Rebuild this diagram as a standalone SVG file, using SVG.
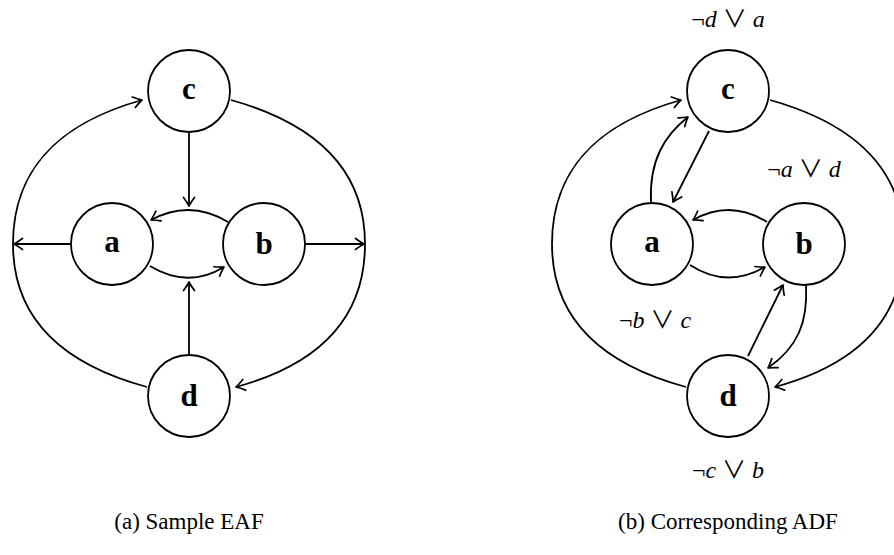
<svg xmlns="http://www.w3.org/2000/svg" width="894" height="555" viewBox="0 0 894 555">
<defs>
<marker id="arr" viewBox="-12 -7 14 14" refX="0" refY="0" markerWidth="14" markerHeight="14" markerUnits="userSpaceOnUse" orient="auto" overflow="visible">
<path d="M -8.5,-5.5 Q -3,-1.5 0,0 Q -3,1.5 -8.5,5.5" fill="none" stroke="#000" stroke-width="1.7" stroke-linecap="round" stroke-linejoin="round"/>
</marker>
<style>
.node circle{fill:#fff;stroke:#000;stroke-width:1.8}
.node text{font-family:"Liberation Serif",serif;font-weight:bold;font-size:31px;text-anchor:middle}
.edges path{fill:none;stroke:#000;stroke-width:1.8;marker-end:url(#arr)}
.lbl{font-family:"Liberation Serif","Noto Sans CJK JP",serif;font-size:24px;text-anchor:middle}
.lbl tspan.v{font-style:italic}
.cap{font-family:"Liberation Serif",serif;font-size:23px;text-anchor:middle}
</style>
</defs>
<rect width="894" height="555" fill="#fff"/>

<!-- Left: Sample EAF -->
<g class="edges" id="edges-eaf">
<path d="M 147,387 C 77,368 13,329 13,244 C 13,159 72,119.6 142,100"/>
<path d="M 231,100 C 301,119.6 365,159 365,244 C 365,329 306,368 236,387"/>
<path d="M 71,244 L 14,244"/>
<path d="M 305,244 L 364,244"/>
<path d="M 189,132 L 189,206"/>
<path d="M 189,355 L 189,282"/>
<path d="M 228,222 Q 190,199 151,220"/>
<path d="M 150,266 Q 188,289 224,267"/>
</g>
<g class="node" id="eaf-c"><circle cx="189" cy="91" r="41"/><text x="189" y="98.5">c</text></g>
<g class="node" id="eaf-a"><circle cx="112" cy="244" r="41"/><text x="112" y="251.5">a</text></g>
<g class="node" id="eaf-b"><circle cx="264" cy="244" r="41"/><text x="264" y="254">b</text></g>
<g class="node" id="eaf-d"><circle cx="189" cy="396" r="41"/><text x="189" y="406">d</text></g>

<!-- Right: Corresponding ADF -->
<g class="edges" id="edges-adf">
<path d="M 686,387 C 616,368 552,329 552,244 C 552,159 611,119.6 681,100"/>
<path d="M 770,100 C 840,119.6 904,159 904,244 C 904,329 845,368 775,387"/>
<path d="M 651,202 C 649,160 665,135 688,117"/>
<path d="M 709,131 L 673,202"/>
<path d="M 767,222 Q 730,199 693,220"/>
<path d="M 690,265 Q 727,289 765,267"/>
<path d="M 748,356 L 783,285"/>
<path d="M 806,285 C 808,322 798,347 768,368"/>
</g>
<g class="node" id="adf-c"><circle cx="728" cy="91" r="41"/><text x="728" y="98.5">c</text></g>
<g class="node" id="adf-a"><circle cx="652" cy="244" r="41"/><text x="652" y="251.5">a</text></g>
<g class="node" id="adf-b"><circle cx="804" cy="244" r="41"/><text x="804" y="254">b</text></g>
<g class="node" id="adf-d"><circle cx="728" cy="396" r="41"/><text x="728" y="406">d</text></g>

<text class="lbl" x="728" y="27">¬<tspan class="v">d</tspan> ∨ <tspan class="v">a</tspan></text>
<text class="lbl" x="804" y="177">¬<tspan class="v">a</tspan> ∨ <tspan class="v">d</tspan></text>
<text class="lbl" x="655" y="328">¬<tspan class="v">b</tspan> ∨ <tspan class="v">c</tspan></text>
<text class="lbl" x="728" y="478">¬<tspan class="v">c</tspan> ∨ <tspan class="v">b</tspan></text>

<text class="cap" x="189" y="529">(a) Sample EAF</text>
<text class="cap" x="728" y="529">(b) Corresponding ADF</text>
</svg>
